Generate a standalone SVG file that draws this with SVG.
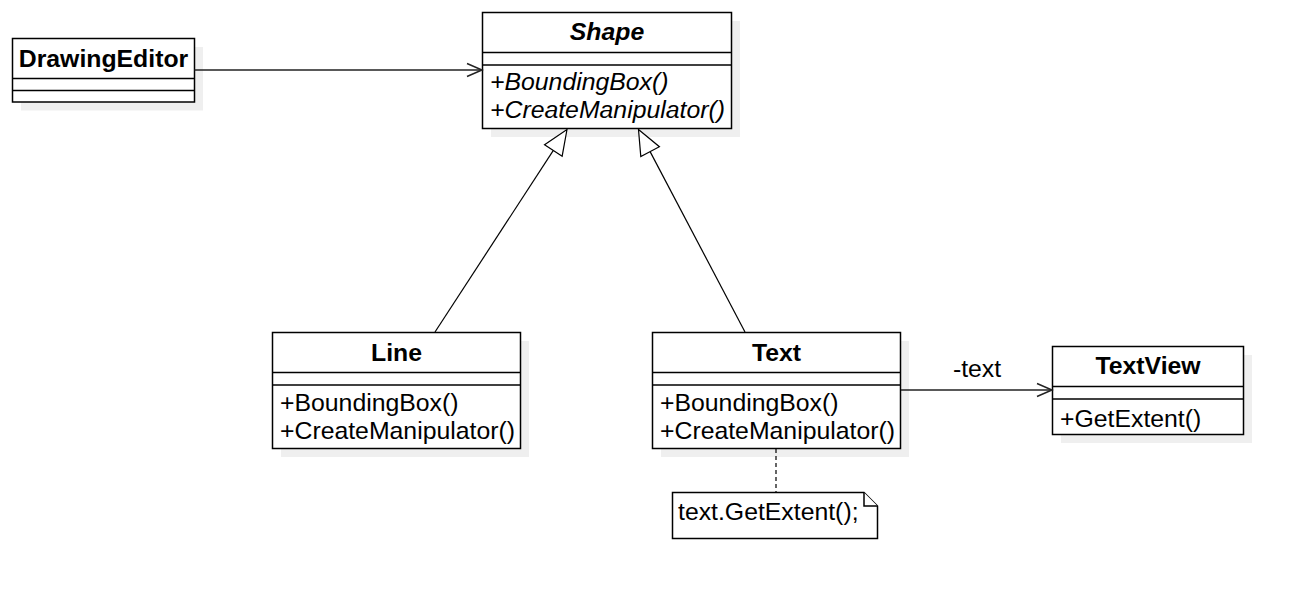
<svg xmlns="http://www.w3.org/2000/svg" width="1292" height="591" viewBox="0 0 1292 591">
<style>
.box{fill:#fff;stroke:#000;stroke-width:1.5}
.shadow{fill:#efefef}
.sep{stroke:#000;stroke-width:1.5}
.t{font-family:"Liberation Sans",Arial,sans-serif;font-size:24.8px;fill:#000}
.b{font-weight:bold}
.i{font-style:italic}
.c{text-anchor:middle}
.edge{fill:none;stroke:#222;stroke-width:1.5}
.gen{fill:#fff;stroke:#000;stroke-width:1.2}
</style>
<rect width="1292" height="591" fill="#fff"/>
<g id="DrawingEditor">
<rect class="shadow" x="21" y="47" width="182" height="63.5"/>
<rect class="box" x="12.5" y="38.5" width="182" height="63.5"/>
<line class="sep" x1="12.5" y1="78.5" x2="194.5" y2="78.5"/>
<line class="sep" x1="12.5" y1="90.5" x2="194.5" y2="90.5"/>
<text class="t b c" x="103.5" y="66.5">DrawingEditor</text>
</g>
<g id="Shape">
<rect class="shadow" x="491" y="21" width="249" height="116"/>
<rect class="box" x="482.5" y="12.5" width="249" height="116"/>
<line class="sep" x1="482.5" y1="52.5" x2="731.5" y2="52.5"/>
<line class="sep" x1="482.5" y1="65" x2="731.5" y2="65"/>
<text class="t b i c" x="607" y="40">Shape</text>
<text class="t i" x="490" y="90">+BoundingBox()</text>
<text class="t i" x="490" y="118">+CreateManipulator()</text>
</g>
<g id="Line">
<rect class="shadow" x="281" y="341" width="248" height="116"/>
<rect class="box" x="272.5" y="332.5" width="248" height="116"/>
<line class="sep" x1="272.5" y1="372.5" x2="520.5" y2="372.5"/>
<line class="sep" x1="272.5" y1="385" x2="520.5" y2="385"/>
<text class="t b c" x="396.5" y="360.5">Line</text>
<text class="t" x="280" y="411">+BoundingBox()</text>
<text class="t" x="280" y="439">+CreateManipulator()</text>
</g>
<g id="Text">
<rect class="shadow" x="661" y="341" width="248" height="116"/>
<rect class="box" x="652.5" y="332.5" width="248" height="116"/>
<line class="sep" x1="652.5" y1="372.5" x2="900.5" y2="372.5"/>
<line class="sep" x1="652.5" y1="385" x2="900.5" y2="385"/>
<text class="t b c" x="776.5" y="360.5">Text</text>
<text class="t" x="660" y="411">+BoundingBox()</text>
<text class="t" x="660" y="439">+CreateManipulator()</text>
</g>
<g id="TextView">
<rect class="shadow" x="1061" y="355" width="191" height="88"/>
<rect class="box" x="1052.5" y="346.5" width="191" height="88"/>
<line class="sep" x1="1052.5" y1="386.5" x2="1243.5" y2="386.5"/>
<line class="sep" x1="1052.5" y1="399" x2="1243.5" y2="399"/>
<text class="t b c" x="1148" y="374">TextView</text>
<text class="t" x="1060" y="426.5">+GetExtent()</text>
</g>
<g id="Note">
<path class="box" d="M672.5,492.5 L864,492.5 L877.5,506 L877.5,538.5 L672.5,538.5 Z"/>
<path class="box" d="M864,492.5 L864,506 L877.5,506"/>
<text class="t" x="678" y="519.5">text.GetExtent();</text>
</g>
<g id="connectors">
<line class="edge" x1="194.5" y1="70" x2="481" y2="70"/>
<polyline class="edge" points="467,63.5 482,70 467,76.5"/>
<line class="edge" x1="901" y1="390" x2="1051" y2="390"/>
<polyline class="edge" points="1037,383.5 1052,390 1037,396.5"/>
<text class="t c" x="977" y="377">-text</text>
<line class="gen" x1="435" y1="332" x2="553.35" y2="150.45"/>
<polygon class="gen" points="567,129.5 562.15,156.2 544.55,144.7"/>
<line class="gen" x1="745" y1="332" x2="650.1" y2="151.6"/>
<polygon class="gen" points="638.5,129.5 659.4,146.7 640.8,156.5"/>
<line x1="776" y1="449" x2="776" y2="492.5" stroke="#000" stroke-width="1.2" stroke-dasharray="4,3"/>
</g>
</svg>
